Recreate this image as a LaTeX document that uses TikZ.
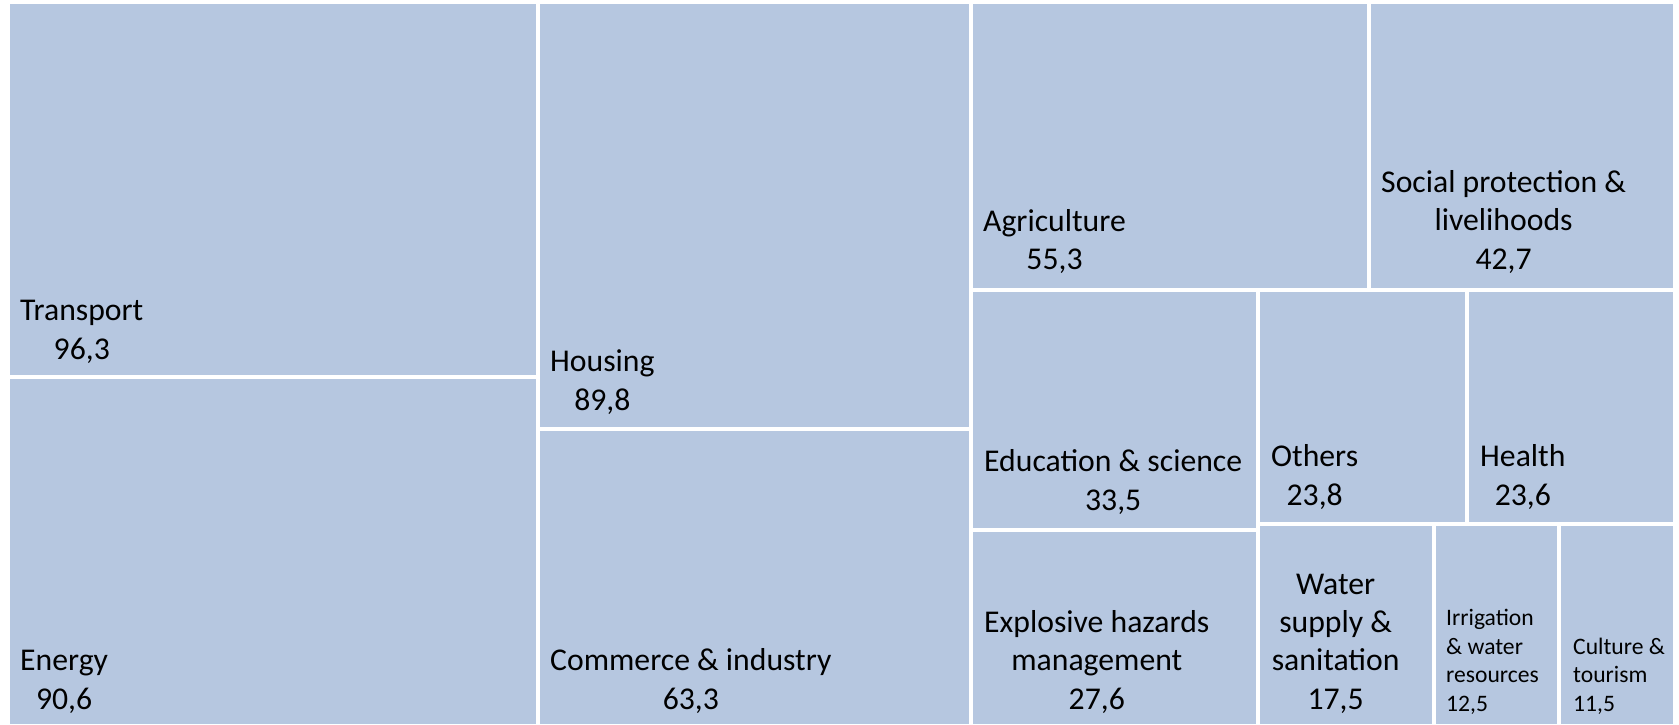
\documentclass[tikz,border=0pt]{standalone}
\usepackage{fontspec}
\setmainfont{Carlito}
\usepackage{tikz}
\usetikzlibrary{positioning}

\definecolor{tileblue}{RGB}{182,199,224}

\begin{document}
\begin{tikzpicture}[x=1pt, y=-1pt, inner sep=0pt]
      \tikzstyle{tile}=[fill=tileblue, draw=white, line width=4pt]
      \tikzstyle{sector}=[anchor=base west, align=center,
        font=\fontsize{31.7}{38.3}\selectfont]
      \tikzstyle{small sector}=[anchor=base west, align=left,
        font=\fontsize{23.6}{28.8}\selectfont]

      \useasboundingbox (0,0) rectangle (1679,724);

      % Draw the tiles, column by column.
      \path[tile] (8,2)        rectangle (538,376.5);   % transport
      \path[tile] (8,376.5)    rectangle (538,726);     % energy
      \path[tile] (538,2)      rectangle (971,429);     % housing
      \path[tile] (538,429)    rectangle (971,726);     % commerce
      \path[tile] (971,2)      rectangle (1368.5,289.5);  % agriculture
      \path[tile] (1368.5,2)   rectangle (1675,289.5);    % social protection
      \path[tile] (971,289.5)  rectangle (1258,530.3);  % education
      \path[tile] (971,530.3)  rectangle (1258,726);    % explosive hazards
      \path[tile] (1258,289.5) rectangle (1467,524);    % others
      \path[tile] (1467,289.5) rectangle (1675,524);    % health
      \path[tile] (1258,524)   rectangle (1434,726);    % water supply
      \path[tile] (1434,524)   rectangle (1559,726);    % irrigation
      \path[tile] (1559,524)   rectangle (1675,726);    % culture

      % Set each label at the bottom left of its tile (base = last line).
      \node[sector]
        (transport) at (20,359)
        {Transport\\96,3};
      \node[sector]
        (energy) at (20,709)
        {Energy\\90,6};
      \node[sector]
        (housing) at (550,410)
        {Housing\\89,8};
      \node[sector]
        (commerce) at (550,709)
        {Commerce \& industry\\63,3};
      \node[sector]
        (agriculture) at (983,269.5)
        {Agriculture\\55,3};
      \node[sector]
        (social) at (1381,269)
        {Social protection \&\\livelihoods\\42,7};
      \node[sector]
        (education) at (984,510)
        {Education \& science\\33,5};
      \node[sector]
        (others) at (1271,505)
        {Others\\23,8};
      \node[sector]
        (health) at (1480,505)
        {Health\\23,6};
      \node[sector]
        (explosive) at (984,709)
        {Explosive hazards\\management\\27,6};
      \node[sector]
        (water) at (1271.6,709)
        {Water\\supply \&\\sanitation\\17,5};
      \node[small sector]
        (irrigation) at (1446,711.7)
        {Irrigation\\\& water\\resources\\12,5};
      \node[small sector]
        (culture) at (1573,711.7)
        {Culture \&\\tourism\\11,5};
    \end{tikzpicture}
\end{document}
